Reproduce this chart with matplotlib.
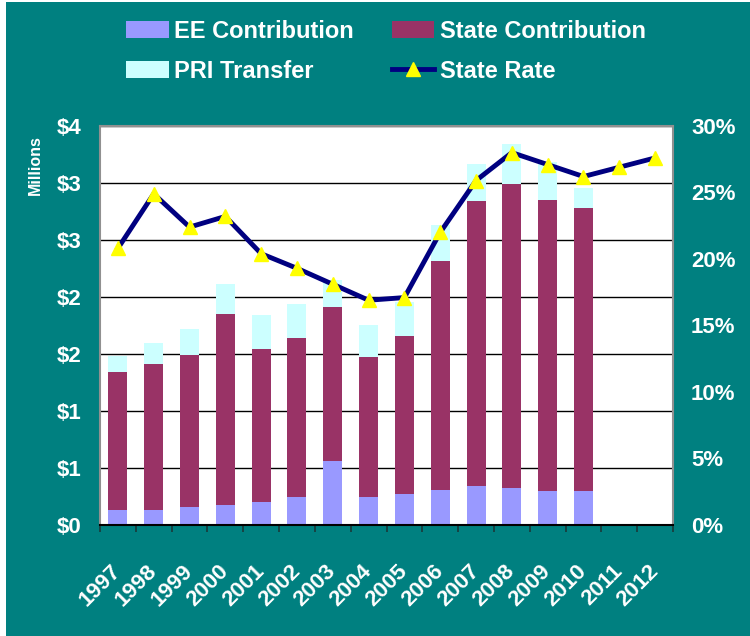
import math

import numpy as np
import matplotlib.pyplot as plt
from matplotlib.patches import Rectangle
from matplotlib.ticker import FuncFormatter, MultipleLocator

years = ['1997', '1998', '1999', '2000', '2001', '2002', '2003', '2004',
         '2005', '2006', '2007', '2008', '2009', '2010', '2011', '2012']
# $ millions, 2011 and 2012 have no bars
ee_contrib = [0.13, 0.13, 0.16, 0.175, 0.20, 0.245, 0.56, 0.245,
              0.27, 0.31, 0.34, 0.325, 0.30, 0.30, 0, 0]
state_contrib = [1.21, 1.28, 1.33, 1.675, 1.34, 1.395, 1.35, 1.225,
                 1.39, 2.01, 2.50, 2.665, 2.55, 2.48, 0, 0]
pri_transfer = [0.14, 0.19, 0.23, 0.26, 0.30, 0.30, 0.24, 0.28,
                0.30, 0.31, 0.33, 0.35, 0.33, 0.18, 0, 0]
state_rate = [0.208, 0.249, 0.224, 0.232, 0.204, 0.193, 0.181, 0.169,
              0.171, 0.220, 0.259, 0.280, 0.271, 0.262, 0.269, 0.276]

TEAL = '#008080'
FONT = 'Liberation Sans'

fig = plt.figure(figsize=(7.5, 6.36), dpi=100, facecolor='white')
fig.patches.append(Rectangle((6/750, 0), 1, 1 - 2/636, transform=fig.transFigure,
                             facecolor=TEAL, edgecolor='none', zorder=-10))

ax = fig.add_axes([100/750, 1 - 525/636, 573/750, 399/636])
ax.set_facecolor('white')
x = np.arange(len(years))
ee = np.array(ee_contrib)
st = np.array(state_contrib)
pr = np.array(pri_transfer)
w = 0.53
b1 = ax.bar(x, ee, w, color='#9999FF', label='EE Contribution')
b2 = ax.bar(x, st, w, bottom=ee, color='#993366', label='State Contribution')
b3 = ax.bar(x, pr, w, bottom=ee + st, color='#CCFFFF', label='PRI Transfer')

ax.set_xlim(-0.5, len(years) - 0.5)
ax.set_ylim(0, 3.5)
ax.yaxis.set_major_locator(MultipleLocator(0.5))
ax.yaxis.set_major_formatter(FuncFormatter(lambda v, p: '$%d' % math.floor(v + 0.5)))
ax.grid(axis='y', color='black', linewidth=1)
ax.set_axisbelow(True)

ax.set_xticks(x)
ax.set_xticklabels(years, rotation=45, ha='right', va='center', rotation_mode='anchor')
ax.set_xticks(np.arange(-0.5, len(years)), minor=True)
ax.tick_params(axis='x', which='major', length=0, pad=31)
ax.tick_params(axis='x', which='minor', length=5, width=1.2, color='#1a3a3a', direction='out')
ax.tick_params(axis='y', length=0, pad=13)
for lbl in ax.get_xticklabels() + ax.get_yticklabels():
    lbl.set_color('white')
    lbl.set_fontsize(16)
    lbl.set_fontweight('bold')
    lbl.set_family(FONT)
for side in ['left', 'right', 'top']:
    ax.spines[side].set_color('#909090')
    ax.spines[side].set_linewidth(1.5)
ax.spines['bottom'].set_color('black')
ax.spines['bottom'].set_linewidth(1.5)

ax2 = ax.twinx()
line, = ax2.plot(x, state_rate, color='#000080', linewidth=3.5, marker='^',
                 markersize=10, markerfacecolor='#FFFF00', markeredgecolor='#FFFF00',
                 label='State Rate')
ax2.set_ylim(0, 0.30)
ax2.yaxis.set_major_locator(MultipleLocator(0.05))
ax2.yaxis.set_major_formatter(FuncFormatter(lambda v, p: '%d%%' % round(v * 100)))
ax2.tick_params(axis='y', length=0, pad=13)
for lbl in ax2.get_yticklabels():
    lbl.set_color('white')
    lbl.set_fontsize(16)
    lbl.set_fontweight('bold')
    lbl.set_family(FONT)
for s in ax2.spines.values():
    s.set_visible(False)

fig.text(35/750, 1 - 165/636, 'Millions', rotation=90, color='white', fontsize=11.5,
         fontweight='bold', family=FONT, ha='center', va='center')

leg = fig.legend([b1, b3, b2, line],
                 ['EE Contribution', 'PRI Transfer', 'State Contribution', 'State Rate'],
                 ncol=2, loc='upper left', bbox_to_anchor=(126/750, 1 - 20/636),
                 frameon=False, borderpad=0, borderaxespad=0,
                 handlelength=1.8, handleheight=0.75, handletextpad=0.25,
                 labelspacing=0.7, columnspacing=1.6,
                 prop={'family': FONT, 'weight': 'bold', 'size': 17})
for t in leg.get_texts():
    t.set_color('white')

fig.savefig('out.png', dpi=100, facecolor=fig.get_facecolor())
